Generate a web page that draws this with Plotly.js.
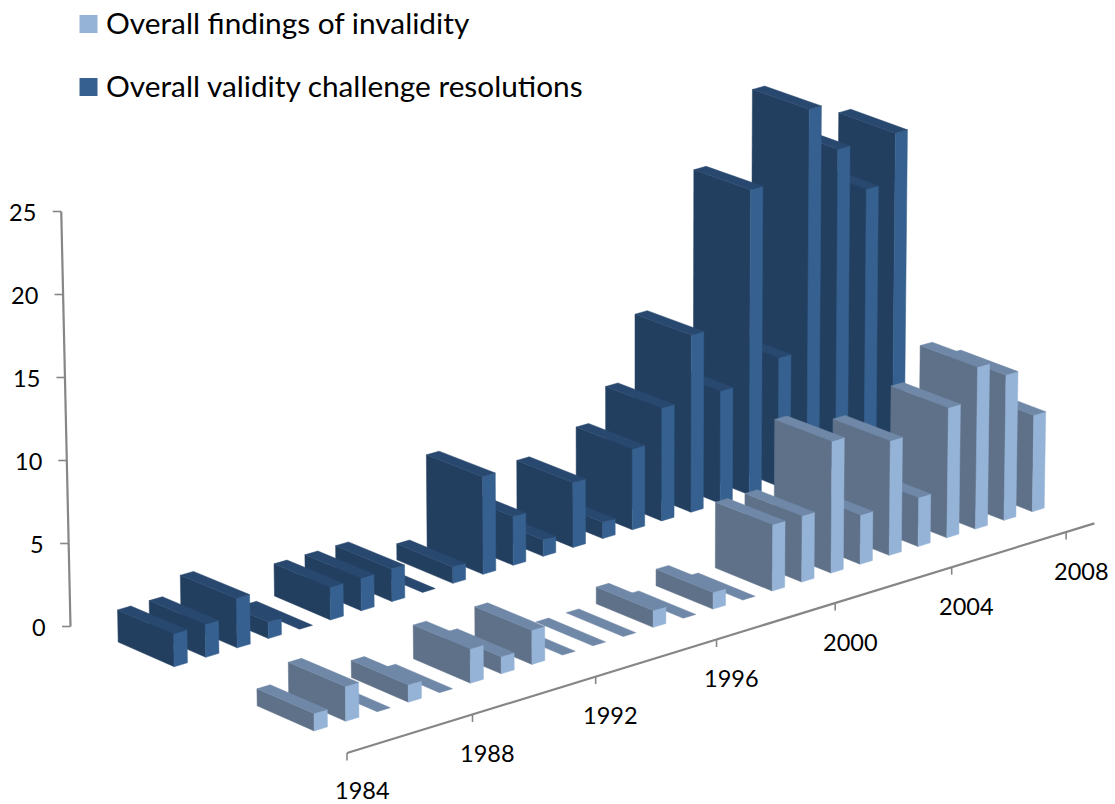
<!DOCTYPE html>
<html><head><meta charset="utf-8">
<script src="https://cdn.plot.ly/plotly-3.0.1.min.js"></script>
<style>html,body{margin:0;padding:0;background:#fff}#c{width:1115px;height:804px}</style></head>
<body><div id="c"></div>
<script>
const years=[1984,1985,1986,1987,1988,1989,1990,1991,1992,1993,1994,1995,1996,1997,1998,1999,2000,2001,2002,2003,2004,2005,2006,2007,2008];
const invalidity=[1,2,0,1,0,2,1,2,0,0,0,1,0,1,0,4,4,8,3,7,3,8,10,9,6];
const resolutions=[2,2,3,1,0,2,2,2,0,1,6,3,1,4,1,5,7,11,7,19,8,23,20,17,20];
const xTickYears=[1984,1988,1992,1996,2000,2004,2008];
const yTicks=[0,5,10,15,20,25];
const seriesNames=['Overall findings of invalidity','Overall validity challenge resolutions'];
const FONT='Lato, Carlito, Calibri, sans-serif';
const GRAY='#868686';
const palette={front:{dark:'#5f7189',light:'#95b3d7',top:'#7088a8'},back:{dark:'#223f60',light:'#36608f',top:'#29486f'}};

// oblique-perspective projection of (year slot t, row offset o, depth within the bar d, value z)
function axisPt(t){const w=1+0.00238*t;return [(347+32.5*t)/w,(753-7.94*t)/w];}
function scale(t,o){
  const u=t/24,v=(o-42)/140;
  const f=17.5+(16.1-17.5)*u,b=16.5+(15.95-16.5)*u;
  return f+(b-f)*v;
}
function P(t,o,d,z){
  const a=axisPt(t),slope=0.459-0.00137*t,slopeD=0.44-0.0022*t;
  const x=a[0]-o-d,y=a[1]-o*slope-d*slopeD,h=z*scale(t,o+d);
  return [x+(x-636)*3.8e-5*h,y-h];
}
const T0=0.29,T1=0.71;
const traces=[];
function poly(pts,color,name){
  const xs=pts.map(p=>p[0]),ys=pts.map(p=>p[1]);
  xs.push(xs[0]);ys.push(ys[0]);
  traces.push({type:'scatter',mode:'lines',x:xs,y:ys,fill:'toself',fillcolor:color,
    line:{color:color,width:0.5},hoverinfo:'skip',showlegend:false,name:name});
}
function bar(i,z,o,depth,col,name){
  const a=i+T0,b=i+T1;
  const A0=P(a,o,depth,0),B0=P(a,o,0,0),C0=P(b,o,0,0);
  const A1=P(a,o,depth,z),B1=P(a,o,0,z),C1=P(b,o,0,z),D1=P(b,o,depth,z);
  if(z>0){
    poly([A0,B0,B1,A1],col.dark,name);
    poly([B0,C0,C1,B1],col.light,name);
  }
  poly([A1,B1,C1,D1],col.top,name);
}
for(let i=years.length-1;i>=0;i--)bar(i,resolutions[i],182,56,palette.back,seriesNames[1]);
for(let i=years.length-1;i>=0;i--)bar(i,invalidity[i],42,57,palette.front,seriesNames[0]);

// category axis
const a0=axisPt(0),a1=axisPt(25);
traces.push({type:'scatter',mode:'lines',x:[a0[0],a1[0]],y:[a0[1],a1[1]],line:{color:GRAY,width:2.2},hoverinfo:'skip',showlegend:false});
const ann=[];
xTickYears.forEach(yr=>{
  const p=axisPt(yr-years[0]);
  traces.push({type:'scatter',mode:'lines',x:[p[0],p[0]],y:[p[1],p[1]+7.5],line:{color:GRAY,width:1.6},hoverinfo:'skip',showlegend:false});
  ann.push({x:p[0]+15,y:Math.min(p[1]+38.5,789.5),text:String(yr),xref:'x',yref:'y',showarrow:false,xanchor:'center',yanchor:'middle',font:{family:FONT,size:23.5,color:'#000'}});
});
// value axis
function yPt(v){return [70.5-v*0.37,626.5-v*16.6];}
const y0=yPt(0),y1=yPt(25);
traces.push({type:'scatter',mode:'lines',x:[y0[0],y1[0]],y:[y0[1],y1[1]],line:{color:GRAY,width:2.2},hoverinfo:'skip',showlegend:false});
yTicks.forEach(v=>{
  const p=yPt(v);
  traces.push({type:'scatter',mode:'lines',x:[p[0],p[0]-8.5],y:[p[1],p[1]],line:{color:GRAY,width:1.6},hoverinfo:'skip',showlegend:false});
  ann.push({x:p[0]-23,y:p[1],text:String(v),xref:'x',yref:'y',showarrow:false,xanchor:'right',yanchor:'middle',font:{family:FONT,size:23.5,color:'#000'}});
});
// legend
const legendRows=[{y:24,color:palette.front.light,text:seriesNames[0]},{y:87,color:palette.back.light,text:seriesNames[1]}];
const shapes=legendRows.map(r=>({type:'rect',xref:'x',yref:'y',x0:79.5,x1:97.5,y0:r.y-9,y1:r.y+9,fillcolor:r.color,line:{width:0}}));
legendRows.forEach(r=>ann.push({x:104,y:r.y-2,text:r.text,xref:'x',yref:'y',showarrow:false,xanchor:'left',yanchor:'middle',font:{family:FONT,size:29.8,color:'#000'}}));

Plotly.newPlot('c',traces,{
  width:1115,height:804,margin:{l:0,r:0,t:0,b:0},showlegend:false,
  paper_bgcolor:'#fff',plot_bgcolor:'#fff',
  xaxis:{range:[0,1115],visible:false,fixedrange:true},
  yaxis:{range:[804,0],visible:false,fixedrange:true},
  shapes:shapes,annotations:ann
},{displayModeBar:false,staticPlot:true});
</script></body></html>
